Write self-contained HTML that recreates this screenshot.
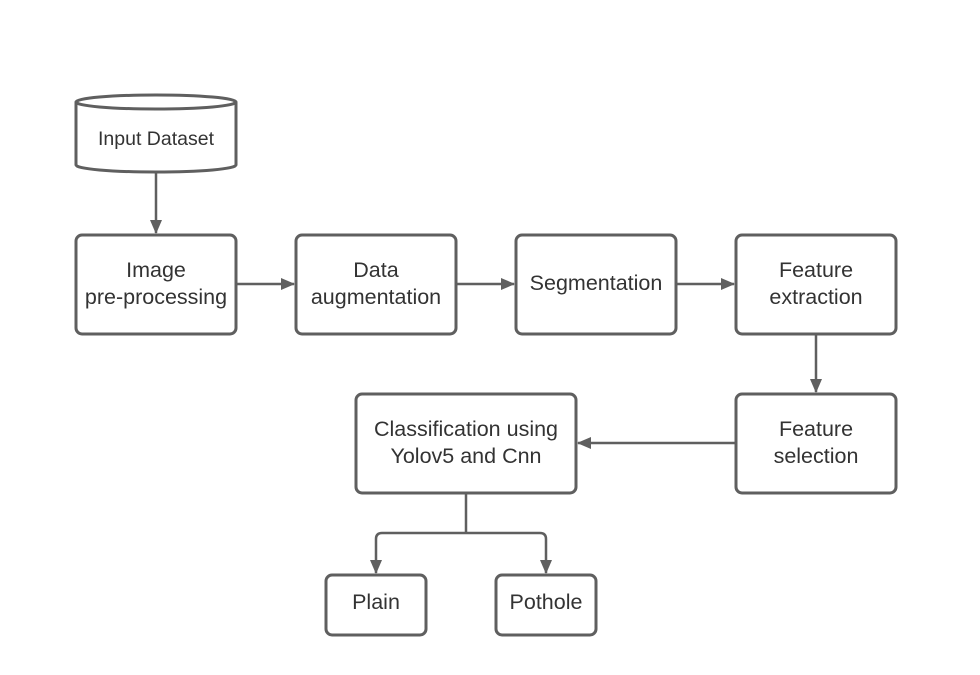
<!DOCTYPE html>
<html><head><style>body{margin:0;background:#fff}svg{display:block}</style></head><body>
<svg width="980" height="675" xmlns="http://www.w3.org/2000/svg" font-family="Liberation Sans, sans-serif" fill="#333">
<defs>
<marker id="b" markerWidth="14" markerHeight="14" refX="13" refY="7" orient="auto" markerUnits="userSpaceOnUse"><path d="M0,1 L14,7 L0,13 z" fill="#5f5f5f"/></marker></defs>
<g stroke="#5f5f5f" stroke-width="3" fill="#fff">
<path d="M76,102 A80,7 0 0 1 236,102 L236,165 A80,7 0 0 1 76,165 Z"/>
<path d="M76,102 A80,7 0 0 0 236,102" fill="none"/>
<rect x="76" y="235" width="160" height="99" rx="6"/>
<rect x="296" y="235" width="160" height="99" rx="6"/>
<rect x="516" y="235" width="160" height="99" rx="6"/>
<rect x="736" y="235" width="160" height="99" rx="6"/>
<rect x="736" y="394" width="160" height="99" rx="6"/>
<rect x="356" y="394" width="220" height="99" rx="6"/>
<rect x="326" y="575" width="100" height="60" rx="6"/>
<rect x="496" y="575" width="100" height="60" rx="6"/>
</g>
<g stroke="#5f5f5f" stroke-width="2.5" fill="none">
<path d="M156,172 V233" marker-end="url(#b)"/>
<path d="M236,284 H294" marker-end="url(#b)"/>
<path d="M456,284 H514" marker-end="url(#b)"/>
<path d="M676,284 H734" marker-end="url(#b)"/>
<path d="M816,334 V392" marker-end="url(#b)"/>
<path d="M736,443 H578" marker-end="url(#b)"/>
<path d="M466,493 V533"/>
<path d="M466,533 H382 Q376,533 376,539 V573" marker-end="url(#b)"/>
<path d="M466,533 H540 Q546,533 546,539 V573" marker-end="url(#b)"/>
</g>
<g font-size="21.5" text-anchor="middle">
<text x="156" y="145" font-size="19.5">Input Dataset</text>
<text x="156" y="277">Image</text><text x="156" y="304">pre-processing</text>
<text x="376" y="277">Data</text><text x="376" y="304">augmentation</text>
<text x="596" y="290">Segmentation</text>
<text x="816" y="277">Feature</text><text x="816" y="304">extraction</text>
<text x="816" y="436">Feature</text><text x="816" y="463">selection</text>
<text x="466" y="436">Classification using</text><text x="466" y="463">Yolov5 and Cnn</text>
<text x="376" y="609">Plain</text>
<text x="546" y="609">Pothole</text>
</g>
</svg>
</body></html>
